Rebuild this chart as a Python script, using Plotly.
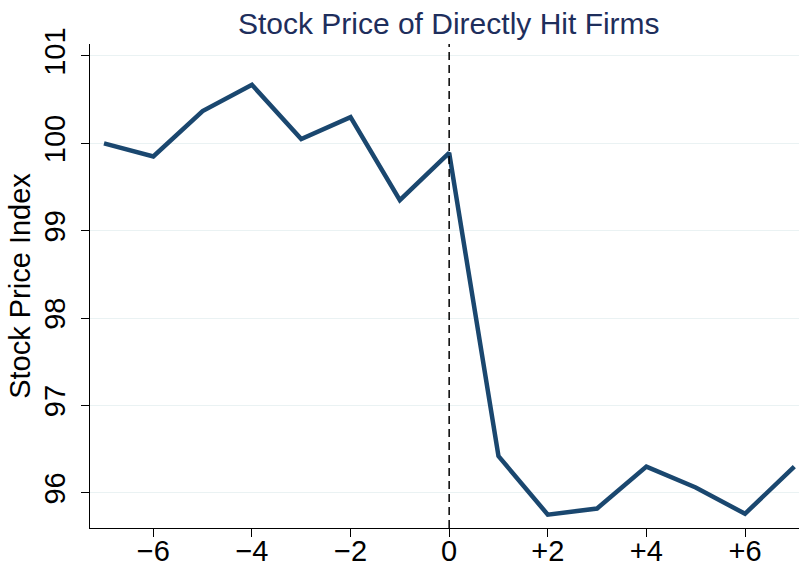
import plotly.graph_objects as go

# Data
event_time = [-7, -6, -5, -4, -3, -2, -1, 0, 1, 2, 3, 4, 5, 6, 7]
price_index = [100.0, 99.85, 100.37, 100.67, 100.05, 100.30, 99.35, 99.89,
               96.42, 95.75, 95.82, 96.30, 96.06, 95.76, 96.30]
x_tickvals = [-6, -4, -2, 0, 2, 4, 6]
x_ticktext = ["\u22126", "\u22124", "\u22122", "0", "+2", "+4", "+6"]
y_tickvals = [96, 97, 98, 99, 100, 101]
y_ticktext = ["96", "97", "98", "99", "100", "101"]
event_x = 0

FONT = "Liberation Sans, Arial, Helvetica, sans-serif"

fig = go.Figure()
fig.add_trace(go.Scatter(
    x=event_time, y=price_index, mode="lines",
    line=dict(color="#1a476f", width=4.5),
    hoverinfo="skip", showlegend=False, cliponaxis=False,
))

fig.add_shape(type="line", xref="x", yref="paper",
              x0=event_x, x1=event_x, y0=0, y1=1,
              line=dict(color="black", width=1.5, dash="8px,5px"))

fig.update_layout(
    width=799, height=567,
    margin=dict(l=90, r=0, t=44, b=39),
    paper_bgcolor="white", plot_bgcolor="white",
    font=dict(family=FONT, color="black"),
    title=dict(text="Stock Price of Directly Hit Firms",
               font=dict(family=FONT, size=30, color="#1e2e5c"),
               x=0.506, xanchor="center", xref="paper",
               y=0.959, yanchor="middle", yref="container"),
    xaxis=dict(range=[-7.284, 7.095], tickvals=x_tickvals, ticktext=x_ticktext,
               showline=True, linecolor="black", linewidth=1,
               ticks="outside", ticklen=8, tickcolor="black", tickwidth=1,
               showgrid=False, zeroline=False, automargin=False,
               ticklabelstandoff=-11,
               tickfont=dict(family=FONT, size=29, color="black")),
    yaxis=dict(range=[95.597, 101.137], tickvals=y_tickvals, ticktext=y_ticktext,
               showline=True, linecolor="black", linewidth=1,
               ticks="outside", ticklen=8, tickcolor="black", tickwidth=1,
               showgrid=True, gridcolor="#eaf2f3", gridwidth=1,
               zeroline=False, tickangle=-90, ticklabelstandoff=4,
               automargin=False,
               tickfont=dict(family=FONT, size=29, color="black"),
               title=dict(text="Stock Price Index", standoff=0,
                          font=dict(family=FONT, size=29, color="black"))),
)

fig.write_html(
    "out.html",
    config={"displayModeBar": False},
    post_script="document.body.style.margin='0';document.body.style.overflow='hidden';",
)
